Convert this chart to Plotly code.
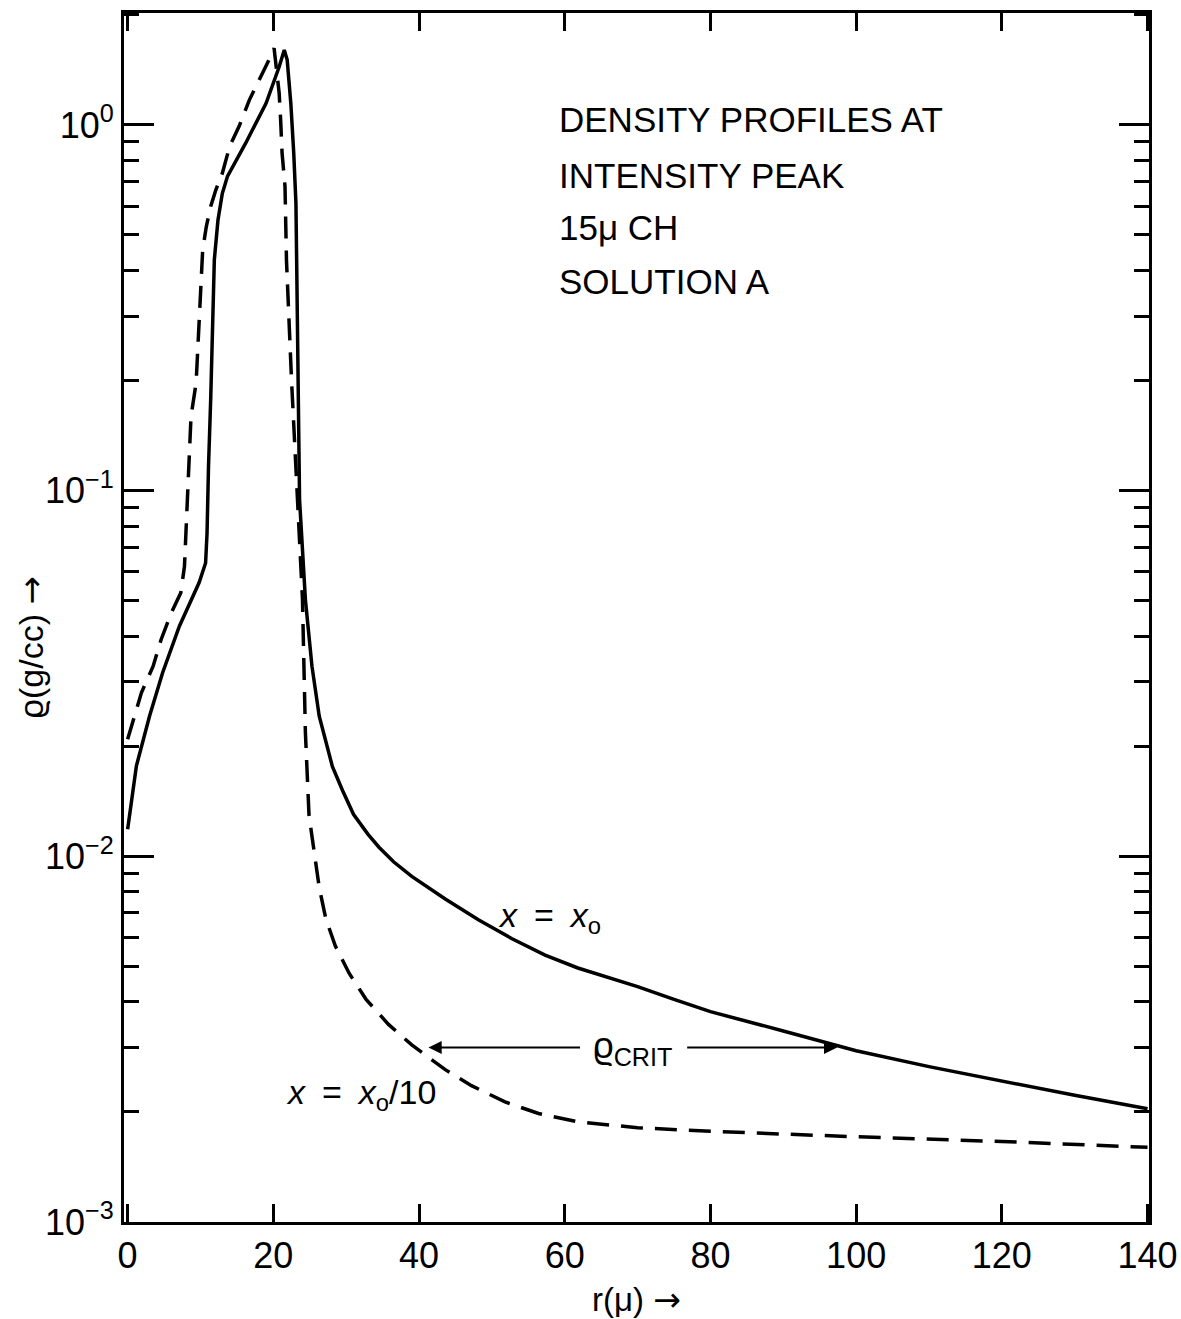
import plotly.graph_objects as go
import math

# ---- data (r in microns, density in g/cc) ----
r_solid = [0.0, 1.2, 3.0, 4.8, 7.1, 9.8, 10.7, 10.9, 11.1, 11.4, 11.9, 12.4, 13.0, 13.7,
           16.2, 19.0, 20.8, 21.5, 21.9, 22.4, 22.8, 23.1, 23.2, 23.4, 23.6, 24.4, 25.3,
           26.3, 28.1, 29.5, 31.0, 33.0, 34.5, 36.5, 39.0, 43.6, 48.2, 52.7, 57.3, 61.8,
           66.0, 70.0, 75.0, 80.0, 90.0, 100.0, 110.0, 120.0, 130.0, 140.0]
rho_solid = [0.01186, 0.01766, 0.02415, 0.03177, 0.04256, 0.05598, 0.06339, 0.07656, 0.1164,
             0.1774, 0.4276, 0.5495, 0.6501, 0.7228, 0.8913, 1.146, 1.442, 1.603, 1.507,
             1.146, 0.8375, 0.6109, 0.4266, 0.1995, 0.0944, 0.05035, 0.03311, 0.02415,
             0.01762, 0.01514, 0.01303, 0.01148, 0.01059, 0.00966, 0.00881, 0.00764,
             0.00670, 0.00596, 0.00537, 0.00495, 0.00466, 0.00440, 0.00406, 0.00376,
             0.00333, 0.00294, 0.00266, 0.00243, 0.00222, 0.00204]

r_dash = [0.0, 1.9, 3.5, 4.6, 6.0, 7.3, 7.8, 8.0, 8.3, 8.7, 9.4, 9.8, 10.3, 10.8, 11.4,
          12.1, 13.0, 14.0, 15.3, 16.7, 18.1, 19.4, 20.1, 20.4, 20.8, 21.0, 21.2, 21.6,
          21.7, 21.8, 22.5, 23.1, 23.5, 24.0, 24.2, 24.4, 24.9, 25.6, 26.3, 27.2, 28.5,
          30.4, 32.7, 35.8, 39.0, 41.3, 43.6, 47.2, 51.8, 56.4, 61.8, 70.0, 80.0, 100.0,
          120.0, 140.0]
rho_dash = [0.02089, 0.02805, 0.03311, 0.03917, 0.04634, 0.05260, 0.06209, 0.07674, 0.1052,
            0.1596, 0.1972, 0.2992, 0.4550, 0.5272, 0.5984, 0.6637, 0.7379, 0.8730, 0.9908,
            1.169, 1.327, 1.507, 1.622, 1.413, 1.222, 1.033, 0.8375, 0.6792, 0.5495, 0.4276,
            0.1995, 0.1164, 0.0767, 0.0504, 0.0331, 0.0218, 0.01291, 0.01023, 0.00822,
            0.00676, 0.00569, 0.00479, 0.00407, 0.00347, 0.00305, 0.00282, 0.00261,
            0.00236, 0.00213, 0.00198, 0.00188, 0.00181, 0.00177, 0.00171, 0.00166, 0.00160]

x_ticks = [0, 20, 40, 60, 80, 100, 120, 140]
y_ticks = [1e-3, 1e-2, 1e-1, 1e0]
y_tick_text = ["10<sup>\u22123</sup>", "10<sup>\u22122</sup>", "10<sup>\u22121</sup>", "10<sup>0</sup>"]
y_minor = [m * 10.0 ** e for e in (-3, -2, -1, 0) for m in range(2, 10) if m * 10.0 ** e < 2.05]

title_lines = ["DENSITY PROFILES AT", "INTENSITY PEAK", "15\u03bc CH", "SOLUTION A"]
rho_crit = 0.003

FONT = "Liberation Sans, Arial, sans-serif"
ARROW = '<span style="font-family:DejaVu Sans">\u2192</span>'
SP = "\u2002"

fig = go.Figure()
fig.add_trace(go.Scatter(x=r_solid, y=rho_solid, mode="lines",
                         line=dict(color="black", width=3.5), showlegend=False))
fig.add_trace(go.Scatter(x=r_dash, y=rho_dash, mode="lines",
                         line=dict(color="black", width=3.5, dash="22px,12px"), showlegend=False))

# text block
line_y = [0.0137, -0.137, -0.281, -0.429]
for t, ly in zip(title_lines, line_y):
    fig.add_annotation(x=59.0, y=ly, text=t, showarrow=False, xanchor="left", yanchor="middle",
                       font=dict(family=FONT, size=35, color="black"))

# curve labels
fig.add_annotation(x=50.6, y=math.log10(0.0068),
                   text=f"<i>x</i>{SP}={SP}<i>x</i><sub>o</sub>",
                   showarrow=False, xanchor="left", yanchor="middle",
                   font=dict(family=FONT, size=34, color="black"))
fig.add_annotation(x=32.0, y=-2.650,
                   text=f"<i>x</i>{SP}={SP}<i>x</i><sub>o</sub>/10",
                   showarrow=False, xanchor="center", yanchor="middle",
                   font=dict(family=FONT, size=34, color="black"))
fig.add_annotation(x=69.3, y=math.log10(rho_crit), text="\u03f1<sub>CRIT</sub>",
                   showarrow=False, xanchor="center", yanchor="middle",
                   font=dict(family=FONT, size=36, color="black"))
# arrows for rho_crit
fig.add_annotation(x=41.3, y=math.log10(rho_crit), ax=62.3, ay=math.log10(rho_crit),
                   axref="x", ayref="y", text="", showarrow=True, arrowhead=2,
                   arrowsize=1.2, arrowwidth=2.2, arrowcolor="black")
fig.add_annotation(x=97.4, y=math.log10(rho_crit), ax=76.6, ay=math.log10(rho_crit),
                   axref="x", ayref="y", text="", showarrow=True, arrowhead=2,
                   arrowsize=1.2, arrowwidth=2.2, arrowcolor="black")

# y-axis title (as rotated annotation to match its position)
fig.add_annotation(xref="paper", yref="paper", x=-0.091, y=0.475, textangle=-90,
                   text=f"\u03f1(g/cc) {ARROW}", showarrow=False,
                   xanchor="center", yanchor="middle",
                   font=dict(family=FONT, size=34, color="black"))

fig.update_xaxes(range=[-0.5, 140.2], tickmode="array", tickvals=x_ticks,
                 ticktext=[str(v) for v in x_ticks], automargin=False,
                 ticks="inside", ticklen=18, tickwidth=2.5, tickcolor="black",
                 showline=True, linewidth=3, linecolor="black", mirror="ticks",
                 showgrid=False, zeroline=False,
                 tickfont=dict(family=FONT, size=36, color="black"),
                 title=dict(text=f"r(\u03bc) {ARROW}", font=dict(family=FONT, size=33, color="black"),
                            standoff=14))
fig.update_yaxes(type="log", range=[-3.0, 0.306], tickmode="array", tickvals=y_ticks,
                 ticktext=y_tick_text, automargin=False,
                 ticks="inside", ticklen=30, tickwidth=3, tickcolor="black",
                 minor=dict(tickmode="array", tickvals=y_minor, ticks="inside", ticklen=15,
                            tickwidth=3, tickcolor="black", showgrid=False),
                 showline=True, linewidth=3, linecolor="black", mirror="ticks",
                 showgrid=False, zeroline=False,
                 tickfont=dict(family=FONT, size=36, color="black"))

fig.update_layout(width=1181, height=1319, paper_bgcolor="white", plot_bgcolor="white",
                  margin=dict(l=124, r=32, t=13, b=97), showlegend=False)

fig.write_html("out.html")
